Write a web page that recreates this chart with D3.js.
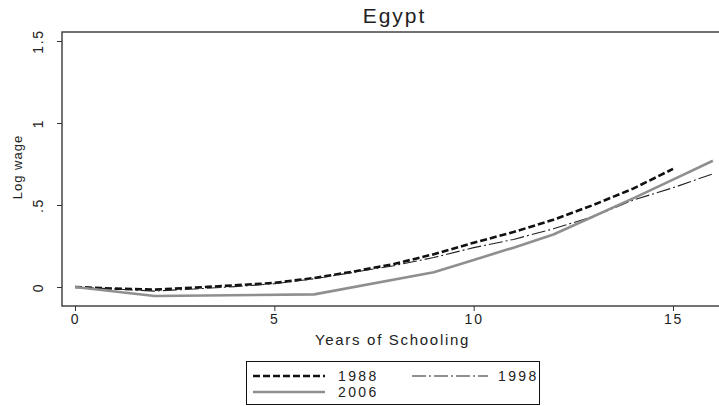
<!DOCTYPE html>
<html>
<head>
<meta charset="utf-8">
<script src="https://cdn.jsdelivr.net/npm/d3@7"></script>
<style>
  html, body { margin: 0; padding: 0; background: #fff; }
  svg { display: block; }
  text { font-family: "Liberation Sans", Arial, sans-serif; fill: #222; }
</style>
</head>
<body>
<svg id="chart" width="719" height="406"></svg>
<script>
// Returns to schooling, Egypt: log wage by years of schooling
const years = [0, 1, 2, 3, 4, 5, 6, 7, 8, 9, 10, 11, 12, 13, 14, 15, 16];
const wage1988 = [0, -0.01, -0.016, -0.004, 0.01, 0.025, 0.055, 0.095, 0.14, 0.2, 0.27, 0.335, 0.41, 0.5, 0.6, 0.72, null];
const wage1998 = [0, -0.012, -0.025, -0.012, 0.002, 0.02, 0.05, 0.09, 0.13, 0.18, 0.24, 0.29, 0.355, 0.43, 0.53, 0.605, 0.69];
const wage2006 = [0, null, -0.055, null, null, null, -0.045, null, null, 0.09, 0.165, 0.24, 0.32, 0.43, 0.54, 0.655, 0.77];
const xTicks = [0, 5, 10, 15];
const yTicks = [0, 0.5, 1, 1.5];
const yTickLabels = ["0", ".5", "1", "1.5"];

const series = [
  { name: "1988", values: wage1988, stroke: "#111", width: 2.6, dash: "7,3" },
  { name: "1998", values: wage1998, stroke: "#222", width: 1.1, dash: "14,3,2,3" },
  { name: "2006", values: wage2006, stroke: "#8f8f8f", width: 2.6, dash: null }
];

const svg = d3.select("#chart");

const x = d3.scaleLinear().domain([0, 15]).range([75, 673]);
const y = d3.scaleLinear().domain([0, 1.5]).range([287, 41]);

// plot region bounds in data units
const xMin = x.invert(62), xMax = x.invert(722);
const yMin = y.invert(306), yMax = y.invert(32);

// frame
svg.append("rect")
  .attr("x", x(xMin)).attr("y", y(yMax))
  .attr("width", x(xMax) - x(xMin)).attr("height", y(yMin) - y(yMax))
  .attr("fill", "none").attr("stroke", "#444").attr("stroke-width", 1.5);

// y axis
const yAxis = d3.axisLeft(y).tickValues(yTicks).tickSize(5)
  .tickFormat((d, i) => yTickLabels[i]);
const gy = svg.append("g").attr("transform", `translate(${x(xMin)},0)`).call(yAxis);
gy.select(".domain").remove();
gy.selectAll(".tick line").attr("stroke", "#333");
gy.selectAll(".tick text")
  .attr("x", 0).attr("dy", 0)
  .attr("transform", "translate(-19,0) rotate(-90)")
  .attr("text-anchor", "middle")
  .style("font-size", "14px").style("letter-spacing", "1.6px")
  .style("fill", "#222");

// x axis
const xAxis = d3.axisBottom(x).tickValues(xTicks).tickSize(5).tickFormat(d3.format("d"));
const gx = svg.append("g").attr("transform", `translate(0,${y(yMin)})`).call(xAxis);
gx.select(".domain").remove();
gx.selectAll(".tick line").attr("stroke", "#333");
gx.selectAll(".tick text")
  .attr("y", 8).attr("dy", "0.71em")
  .style("font-size", "14px").style("letter-spacing", "1.8px")
  .style("fill", "#222");

// axis titles
svg.append("text")
  .attr("x", (x(xMin) + 719) / 2 + 2).attr("y", 345)
  .attr("text-anchor", "middle")
  .style("font-size", "15px").style("letter-spacing", "1.7px")
  .text("Years of Schooling");

svg.append("text")
  .attr("transform", `translate(22,${(y(yMin) + y(yMax)) / 2 - 2}) rotate(-90)`)
  .attr("text-anchor", "middle")
  .style("font-size", "13px").style("letter-spacing", "1px")
  .text("Log wage");

// title
svg.append("text")
  .attr("x", (x(xMin) + 719) / 2 + 4).attr("y", 23)
  .attr("text-anchor", "middle")
  .style("font-size", "21px").style("letter-spacing", "2px")
  .text("Egypt");

// lines
const line = d3.line()
  .x(d => x(d[0])).y(d => y(d[1]));

series.forEach(s => {
  const pts = years.map((yr, i) => [yr, s.values[i]]).filter(d => d[1] !== null);
  svg.append("path")
    .datum(pts)
    .attr("d", line)
    .attr("fill", "none")
    .attr("stroke", s.stroke)
    .attr("stroke-width", s.width)
    .attr("stroke-dasharray", s.dash)
    .attr("stroke-linejoin", "round");
});

// legend
const lg = svg.append("g");
lg.append("rect")
  .attr("x", 246.5).attr("y", 361.5).attr("width", 293).attr("height", 43)
  .attr("fill", "#fff").attr("stroke", "#111").attr("stroke-width", 1);

const legendPos = [
  { x0: 253, x1: 325, tx: 338, ty: 376 },
  { x0: 412, x1: 488, tx: 498, ty: 376 },
  { x0: 253, x1: 325, tx: 338, ty: 392 }
];
series.forEach((s, i) => {
  const p = legendPos[i];
  lg.append("line")
    .attr("x1", p.x0).attr("x2", p.x1).attr("y1", p.ty).attr("y2", p.ty)
    .attr("stroke", s.stroke).attr("stroke-width", s.width)
    .attr("stroke-dasharray", s.dash);
  lg.append("text")
    .attr("x", p.tx).attr("y", p.ty).attr("dy", "0.36em")
    .style("font-size", "14px").style("letter-spacing", "2.4px")
    .text(s.name);
});
</script>
</body>
</html>
